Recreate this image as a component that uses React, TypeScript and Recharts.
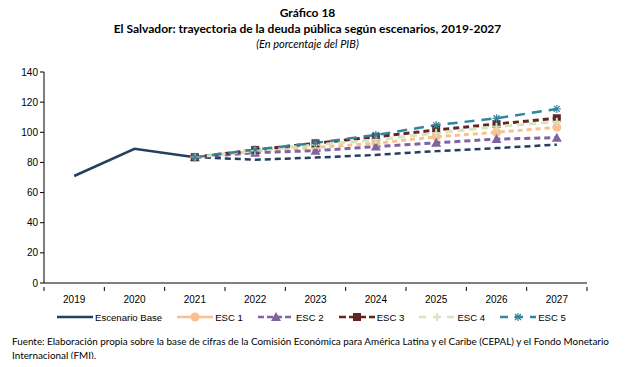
import React from 'react';
import { LineChart, Line, XAxis, YAxis, Legend } from 'recharts';

const years = ['2019', '2020', '2021', '2022', '2023', '2024', '2025', '2026', '2027'];
const baseHist = [71, 89, 83.5, null, null, null, null, null, null];
const baseProj = [null, null, 83.5, 81.8, 83.2, 85, 87.5, 89.5, 91.8];
const esc1 = [null, null, 83.5, 87.5, 90, 92.7, 97, 100, 103.3];
const esc2 = [null, null, 83.5, 86.5, 87.8, 90.5, 93, 95.5, 96.4];
const esc3 = [null, null, 83.5, 88.3, 92.7, 97, 101.5, 105.5, 109.3];
const esc4 = [null, null, 83.5, 87.8, 91.6, 95, 99.5, 103.7, 107];
const esc5 = [null, null, 83.5, 88.5, 93, 98.2, 104.8, 109.3, 115.5];
const yTicks = [0, 20, 40, 60, 80, 100, 120, 140];

const data = years.map((y, i) => ({
  year: y,
  baseHist: baseHist[i],
  baseProj: baseProj[i],
  esc1: esc1[i],
  esc2: esc2[i],
  esc3: esc3[i],
  esc4: esc4[i],
  esc5: esc5[i],
}));

const NAVY = '#243F60';
const ORANGE = '#FAC08F';
const PURPLE = '#8064A2';
const DARKRED = '#632523';
const LGREEN = '#D7E4BD';
const TEAL = '#31859C';

const tickFont = { fontFamily: '"Liberation Sans", Arial, sans-serif', fontSize: 10, fill: '#000' };

type Shape = 'circle' | 'triangle' | 'square' | 'plus' | 'star';

const Marker = ({ cx, cy, shape, color }: { cx: number; cy: number; shape: Shape; color: string }) => {
  if (cx == null || cy == null) return null;
  if (shape === 'circle') return <circle cx={cx} cy={cy} r={4.5} fill={color} />;
  if (shape === 'triangle')
    return <polygon points={`${cx},${cy - 5} ${cx - 5},${cy + 4} ${cx + 5},${cy + 4}`} fill={color} />;
  if (shape === 'square') return <rect x={cx - 4} y={cy - 4} width={8} height={8} fill={color} />;
  if (shape === 'plus')
    return (
      <g stroke={color} strokeWidth={2}>
        <line x1={cx - 4} y1={cy} x2={cx + 4} y2={cy} />
        <line x1={cx} y1={cy - 4} x2={cx} y2={cy + 4} />
      </g>
    );
  return (
    <g stroke={color} strokeWidth={1.2}>
      <line x1={cx - 4} y1={cy} x2={cx + 4} y2={cy} />
      <line x1={cx - 3} y1={cy - 3} x2={cx + 3} y2={cy + 3} />
      <line x1={cx - 3} y1={cy + 3} x2={cx + 3} y2={cy - 3} />
      <line x1={cx} y1={cy - 4} x2={cx} y2={cy + 4} />
    </g>
  );
};

const dotFor = (shape: Shape, color: string) => (props: any) =>
  <Marker key={props.index} cx={props.cx} cy={props.cy} shape={shape} color={color} />;

const half = (587 - 44) / years.length / 2;

const XTick = (props: any) => {
  const { x, y, payload, index } = props;
  return (
    <g>
      <line x1={x - half} y1={y - 4} x2={x - half} y2={y} stroke="#000" />
      {index === years.length - 1 && <line x1={x + half} y1={y - 4} x2={x + half} y2={y} stroke="#000" />}
      <text x={x} y={y + 12} textAnchor="middle" {...tickFont}>{payload.value}</text>
    </g>
  );
};

const legendItems: { name: string; color: string; shape: Shape | null; dash: string }[] = [
  { name: 'Escenario Base', color: NAVY, shape: null, dash: '' },
  { name: 'ESC 1', color: ORANGE, shape: 'circle', dash: '' },
  { name: 'ESC 2', color: PURPLE, shape: 'triangle', dash: '6 3' },
  { name: 'ESC 3', color: DARKRED, shape: 'square', dash: '7 3' },
  { name: 'ESC 4', color: LGREEN, shape: 'plus', dash: '7 7' },
  { name: 'ESC 5', color: TEAL, shape: 'star', dash: '8 7' },
];

const LegendContent = () => (
  <div style={{ display: 'flex', paddingLeft: 57, alignItems: 'center', height: 20, marginTop: 4, width: 627, whiteSpace: 'nowrap' }}>
    {legendItems.map((it) => (
      <div key={it.name} style={{ display: 'flex', alignItems: 'center', marginRight: 15, flexShrink: 0 }}>
        <svg width={36} height={12}>
          <line x1={0} y1={6} x2={36} y2={6} stroke={it.color} strokeWidth={2.5} strokeDasharray={it.dash} />
          {it.shape && <Marker cx={18} cy={6} shape={it.shape} color={it.color} />}
        </svg>
        <span style={{ ...tickFont, fontSize: 9.6, color: '#000', marginLeft: 2 }}>{it.name}</span>
      </div>
    ))}
  </div>
);

export default function App() {
  return (
    <div style={{ position: 'relative', width: 627, height: 367, margin: -8, background: '#fff', fontFamily: 'Lato, sans-serif' }}>
      <div style={{ position: 'absolute', top: 5, width: '100%', textAlign: 'center', fontSize: 12, fontWeight: 'bold', lineHeight: '16px' }}>
        <div style={{ marginLeft: -12 }}>Gráfico 18</div>
        <div style={{ marginLeft: -12 }}>El Salvador: trayectoria de la deuda pública según escenarios, 2019-2027</div>
        <div style={{ marginLeft: -12, fontWeight: 'normal', fontStyle: 'italic', fontSize: 11, lineHeight: '13px' }}>(En porcentaje del PIB)</div>
      </div>
      <div style={{ position: 'absolute', top: 60, left: 0 }}>
        <LineChart width={627} height={270} data={data} margin={{ top: 12, right: 40, bottom: 0, left: 14 }}>
          <XAxis dataKey="year" scale="band" tickLine={false} stroke="#000" height={20} tick={<XTick />} interval={0} />
          <YAxis width={30} domain={[0, 140]} ticks={yTicks} stroke="#000" tickSize={4} tick={tickFont} interval={0} />
          <Legend verticalAlign="bottom" height={27} content={<LegendContent />} wrapperStyle={{ left: 0, width: 627 }} />
          <Line dataKey="baseHist" stroke={NAVY} strokeWidth={2.5} dot={false} isAnimationActive={false} />
          <Line dataKey="baseProj" stroke={NAVY} strokeWidth={2.5} strokeDasharray="6 4" dot={false} isAnimationActive={false} legendType="none" />
          <Line dataKey="esc1" stroke={ORANGE} strokeWidth={3} strokeDasharray="5 4" dot={dotFor('circle', ORANGE)} isAnimationActive={false} />
          <Line dataKey="esc2" stroke={PURPLE} strokeWidth={3} strokeDasharray="6 4" dot={dotFor('triangle', PURPLE)} isAnimationActive={false} />
          <Line dataKey="esc3" stroke={DARKRED} strokeWidth={3} strokeDasharray="6 4" dot={dotFor('square', DARKRED)} isAnimationActive={false} />
          <Line dataKey="esc4" stroke={LGREEN} strokeWidth={3} strokeDasharray="7 5" dot={dotFor('plus', LGREEN)} isAnimationActive={false} />
          <Line dataKey="esc5" stroke={TEAL} strokeWidth={2.5} strokeDasharray="10 7" dot={dotFor('star', TEAL)} isAnimationActive={false} />
        </LineChart>
      </div>
      <div style={{ position: 'absolute', top: 334, left: 12, width: 602, fontSize: 9.9, lineHeight: '14px', color: '#000' }}>
        Fuente: Elaboración propia sobre la base de cifras de la Comisión Económica para América Latina y el Caribe (CEPAL) y el Fondo Monetario Internacional (FMI).
      </div>
    </div>
  );
}
